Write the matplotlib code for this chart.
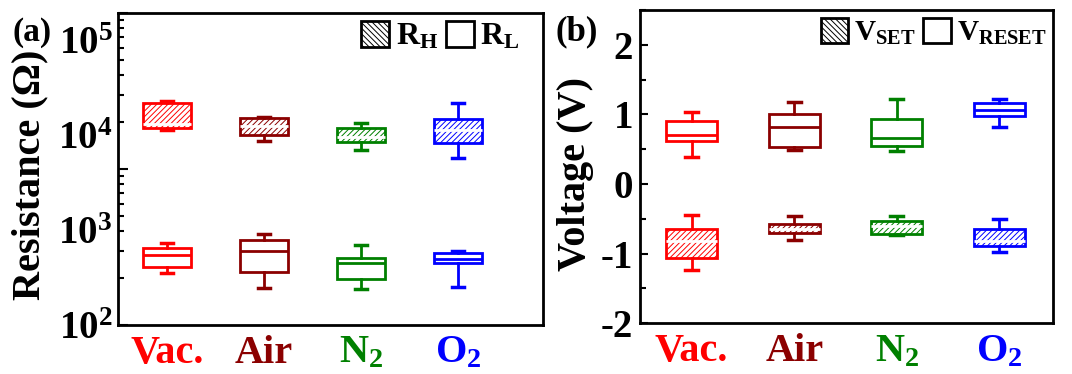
import numpy as np
import matplotlib
matplotlib.use("Agg")
import matplotlib.pyplot as plt
from matplotlib.patches import Patch
from matplotlib.ticker import FixedLocator, NullLocator, MultipleLocator

plt.rcParams['font.family'] = ['Liberation Serif', 'DejaVu Serif']
plt.rcParams['font.weight'] = 'bold'
plt.rcParams['mathtext.fontset'] = 'custom'
plt.rcParams['mathtext.rm'] = 'Liberation Serif:bold'
plt.rcParams['mathtext.bf'] = 'Liberation Serif:bold'
plt.rcParams['mathtext.it'] = 'Liberation Serif:bold'
plt.rcParams['axes.unicode_minus'] = False
plt.rcParams['hatch.linewidth'] = 0.7

# gases and their colours
gases = ['Vac.', 'Air', r'$\mathbf{N_2}$', r'$\mathbf{O_2}$']
colors = ['#ff0000', '#8b0000', '#008000', '#0000ff']

# panel (a) resistance boxes: whislo, q1, med, q3, whishi (ohm)
rh_lo = [11400, 8650, 6950, 5700]
rh_q1 = [11850, 10000, 8400, 8300]
rh_med = [13000, 12400, 9600, 11300]
rh_q3 = [21700, 15100, 11800, 14700]
rh_hi = [22800, 15500, 13500, 21600]

rl_lo = [350, 247, 238, 253]
rl_q1 = [411, 359, 303, 446]
rl_med = [546, 605, 453, 495]
rl_q3 = [651, 785, 511, 569]
rl_hi = [724, 907, 695, 605]

# panel (b) voltage boxes (V)
vset_lo = [-1.23, -0.81, -0.74, -0.98]
vset_q1 = [-1.06, -0.71, -0.72, -0.89]
vset_med = [-0.82, -0.64, -0.60, -0.82]
vset_q3 = [-0.64, -0.57, -0.53, -0.64]
vset_hi = [-0.44, -0.46, -0.46, -0.505]

vres_lo = [0.39, 0.495, 0.47, 0.82]
vres_q1 = [0.625, 0.53, 0.545, 0.975]
vres_med = [0.70, 0.82, 0.665, 1.07]
vres_q3 = [0.90, 1.0, 0.94, 1.165]
vres_hi = [1.035, 1.18, 1.215, 1.215]


def stats(lo, q1, med, q3, hi):
    return [dict(whislo=a, q1=b, med=c, q3=d, whishi=e, fliers=[])
            for a, b, c, d, e in zip(lo, q1, med, q3, hi)]


def draw(ax, st, hatched):
    for i, (s, c) in enumerate(zip(st, colors)):
        ax.bxp([s], positions=[i + 1], widths=0.5, capwidths=0.13,
               patch_artist=True, showfliers=False,
               boxprops=dict(facecolor='white', edgecolor=c, linewidth=2,
                             hatch='//////' if hatched else None),
               medianprops=dict(color='white' if hatched else c, linewidth=2),
               whiskerprops=dict(color=c, linewidth=2),
               capprops=dict(color=c, linewidth=2.5))


def legend(ax, labels, anchor, size):
    ax.legend(handles=[Patch(facecolor='white', edgecolor='black', hatch='\\\\\\\\\\\\', lw=2),
                       Patch(facecolor='white', edgecolor='black', lw=2)],
              labels=labels, ncol=2, loc='upper right', bbox_to_anchor=anchor,
              frameon=False, fontsize=size, handlelength=20 / size, handleheight=20 / size,
              handletextpad=0.2, columnspacing=0.25, borderaxespad=0.0, borderpad=0.0)


fig = plt.figure(figsize=(10.72, 3.74), dpi=100)
ax1 = fig.add_axes([0.110, 0.131, 0.3965, 0.834])
ax2 = fig.add_axes([0.597, 0.136, 0.385, 0.837])

# ---- (a)
draw(ax1, stats(rh_lo, rh_q1, rh_med, rh_q3, rh_hi), True)
draw(ax1, stats(rl_lo, rl_q1, rl_med, rl_q3, rl_hi), False)
ax1.set_yscale('log')
ax1.set_ylim(100, 10 ** 5.284)
ax1.set_xlim(0.495, 4.876)
ax1.yaxis.set_major_locator(FixedLocator([1e2, 1e3, 1e4, 1e5]))
ax1.yaxis.set_major_formatter(plt.FuncFormatter(lambda v, p: r'$\mathbf{10^{%d}}$' % round(np.log10(v))))
ax1.yaxis.set_minor_locator(NullLocator())
ax1.tick_params(axis='y', length=0, labelsize=28, pad=4)
ax1.set_ylabel('Resistance (Ω)', fontsize=29, fontweight='bold')
ax1.yaxis.set_label_coords(-0.164, 0.482)

# tick marks of the original sit on their own log scale
axt = fig.add_axes(ax1.get_position(), frameon=False)
axt.set_yscale('log')
axt.set_ylim(100, 1e4)
axt.set_xticks([])
axt.tick_params(axis='y', which='both', direction='in', labelleft=False, width=1.5)
axt.tick_params(axis='y', which='major', length=7)
axt.tick_params(axis='y', which='minor', length=4)
axt.yaxis.set_minor_formatter(plt.NullFormatter())

legend(ax1, [r'$\mathbf{R_H}$', r'$\mathbf{R_L}$'], (0.945, 0.975), 23)

# ---- (b)
draw(ax2, stats(vset_lo, vset_q1, vset_med, vset_q3, vset_hi), True)
draw(ax2, stats(vres_lo, vres_q1, vres_med, vres_q3, vres_hi), False)
ax2.set_ylim(-2, 2.5)
ax2.set_xlim(0.496, 4.52)
ax2.yaxis.set_major_locator(FixedLocator([-2, -1, 0, 1, 2]))
ax2.yaxis.set_minor_locator(MultipleLocator(0.5))
ax2.tick_params(axis='y', which='both', direction='in', labelsize=28, width=1.5, pad=5)
ax2.tick_params(axis='y', which='major', length=6)
ax2.tick_params(axis='y', which='minor', length=4)
ax2.set_ylabel('Voltage (V)', fontsize=29, fontweight='bold')
ax2.yaxis.set_label_coords(-0.112, 0.478)
legend(ax2, [r'$\mathbf{V_{SET}}$', r'$\mathbf{V_{RESET}}$'], (0.985, 0.975), 21)

for ax in (ax1, ax2):
    ax.set_xticks([1, 2, 3, 4])
    ax.set_xticklabels(gases)
    ax.tick_params(axis='x', length=0, labelsize=29, pad=7)
    for lab, c in zip(ax.get_xticklabels(), colors):
        lab.set_color(c)
        lab.set_fontweight('bold')
    for sp in ax.spines.values():
        sp.set_linewidth(2)

fig.text(0.012, 0.955, '(a)', fontsize=24, fontweight='bold', va='top')
fig.text(0.518, 0.96, '(b)', fontsize=25, fontweight='bold', va='top')

fig.savefig('out.png', dpi=100)
